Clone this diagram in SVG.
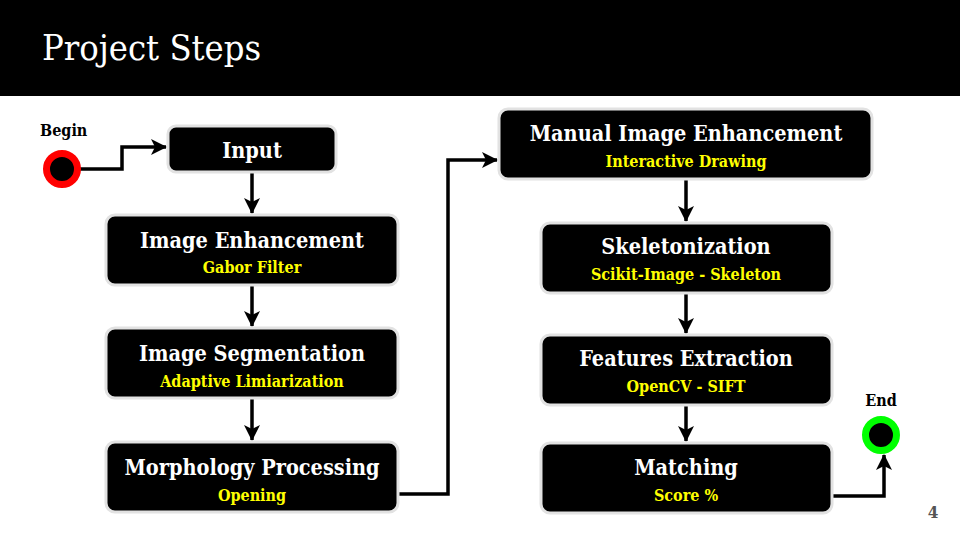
<svg xmlns="http://www.w3.org/2000/svg" width="960" height="540" viewBox="0 0 960 540">
<defs>
<marker id="ah" viewBox="0 0 16 16" refX="15" refY="8" markerWidth="16" markerHeight="16" markerUnits="userSpaceOnUse" orient="auto">
<path d="M0,0 L16,8 L0,16 L4,8 Z" fill="#000"/>
</marker>
<style>
.box{fill:#000;stroke:#e2e2e2;stroke-width:3}
.t{font-family:"DejaVu Serif Condensed","DejaVu Serif",serif;font-weight:bold;fill:#fff;text-anchor:middle;font-size:21.5px}
.s{font-family:"DejaVu Serif Condensed","DejaVu Serif",serif;font-weight:bold;fill:#ffff00;text-anchor:middle;font-size:16px}
.lbl{font-family:"DejaVu Serif Condensed","DejaVu Serif",serif;font-weight:bold;fill:#000;font-size:16px}
.c{fill:none;stroke:#000;stroke-width:3.5;marker-end:url(#ah)}
</style>
</defs>
<rect width="960" height="540" fill="#fff"/>
<rect x="0" y="0" width="960" height="96" fill="#000"/>
<text x="42" y="60" font-family="DejaVu Serif Condensed, DejaVu Serif, serif" font-size="36" fill="#fff">Project Steps</text>

<g id="connectors">
<path class="c" d="M80,169 H122 V147 H166"/>
<path class="c" d="M252,172 V213"/>
<path class="c" d="M252,286 V326"/>
<path class="c" d="M252,399 V440"/>
<path class="c" d="M398,494 H448 V160 H497"/>
<path class="c" d="M686,180 V221"/>
<path class="c" d="M686,294 V333"/>
<path class="c" d="M686,406 V441"/>
<path class="c" d="M833,496 H884 V455"/>
</g>

<g id="begin">
<text class="lbl" x="40" y="136">Begin</text>
<circle cx="62" cy="169" r="15.5" fill="#000" stroke="#ff0000" stroke-width="7"/>
</g>
<g id="input">
<rect class="box" x="168" y="126" width="168" height="46" rx="8"/>
<text class="t" x="252" y="158">Input</text>
</g>
<g id="image-enhancement">
<rect class="box" x="106" y="215" width="292" height="70" rx="9"/>
<text class="t" x="252" y="248">Image Enhancement</text>
<text class="s" x="252" y="273">Gabor Filter</text>
</g>
<g id="image-segmentation">
<rect class="box" x="106" y="328" width="292" height="70" rx="9"/>
<text class="t" x="252" y="361">Image Segmentation</text>
<text class="s" x="252" y="387">Adaptive Limiarization</text>
</g>
<g id="morphology">
<rect class="box" x="106" y="442" width="292" height="70" rx="9"/>
<text class="t" x="252" y="475">Morphology Processing</text>
<text class="s" x="252" y="501">Opening</text>
</g>
<g id="manual">
<rect class="box" x="499" y="109" width="373" height="70" rx="9"/>
<text class="t" x="686" y="141">Manual Image Enhancement</text>
<text class="s" x="686" y="167">Interactive Drawing</text>
</g>
<g id="skeletonization">
<rect class="box" x="541" y="223" width="291" height="70" rx="9"/>
<text class="t" x="686" y="254">Skeletonization</text>
<text class="s" x="686" y="280">Scikit-Image - Skeleton</text>
</g>
<g id="features">
<rect class="box" x="541" y="335" width="291" height="70" rx="9"/>
<text class="t" x="686" y="366">Features Extraction</text>
<text class="s" x="686" y="392">OpenCV - SIFT</text>
</g>
<g id="matching">
<rect class="box" x="541" y="443" width="291" height="70" rx="9"/>
<text class="t" x="686" y="475">Matching</text>
<text class="s" x="686" y="501">Score %</text>
</g>
<g id="end">
<text class="lbl" x="881" y="406" text-anchor="middle">End</text>
<circle cx="881" cy="435" r="15.5" fill="#000" stroke="#00ff00" stroke-width="7"/>
</g>
<text x="933" y="518" font-family="DejaVu Serif Condensed, DejaVu Serif, serif" font-weight="bold" font-size="17" fill="#555" text-anchor="middle">4</text>
</svg>
